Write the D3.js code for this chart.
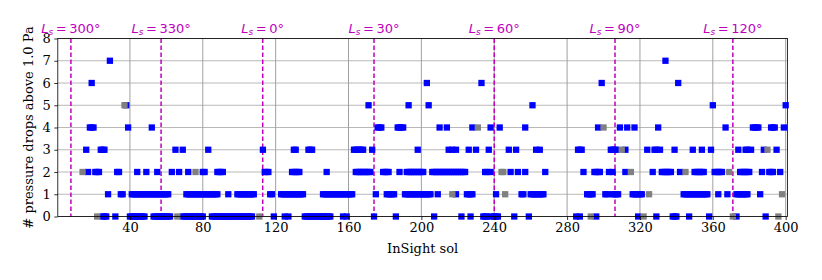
<!DOCTYPE html>
<html><head><meta charset="utf-8">
<script src="https://cdn.jsdelivr.net/npm/d3@7"></script>
<style>body{margin:0;background:#fff}</style>
</head><body>
<svg id="c" width="822" height="280"></svg>
<script>
// sols per count level (blue = complete sols, gray = partial sols)
const blueAt0=[25,26,27,32,40,41,42,43,44,45,46,47,48,53,54,55,56,57,58,59,60,61,62,69,70,71,72,73,74,75,76,77,78,79,80,85,86,87,88,89,90,91,92,93,94,95,96,97,98,99,100,101,102,103,104,105,106,107,119,125,127,136,137,138,139,140,141,142,143,144,145,146,147,148,149,150,157,159,174,186,207,222,227,234,235,236,238,240,241,242,251,259,285,287,296,319,329,338,339,340,347,358,373,389];
const grayAt0=[22,66,111,293,322,371,396];
const blueAt1=[28,35,36,41,42,43,44,45,46,47,48,49,50,51,52,53,54,55,56,57,58,59,60,61,71,72,73,74,75,76,77,78,79,80,81,82,83,84,85,86,87,88,94,99,100,101,102,103,104,105,106,107,108,117,118,123,124,125,126,127,128,129,130,131,132,133,134,135,146,147,148,149,150,151,152,153,154,155,156,157,158,159,160,161,162,175,181,182,183,184,185,191,192,193,194,195,196,197,198,199,200,201,202,203,204,205,209,219,225,226,227,228,241,255,256,260,261,262,263,264,265,266,267,291,292,293,294,301,302,305,306,307,308,316,317,318,319,320,321,344,345,346,347,348,349,350,351,352,353,354,355,356,357,363,368,373,374,375,376,377,378,379,386];
const grayAt1=[217,246,325,398];
const blueAt2=[17,21,22,23,33,34,44,49,55,63,67,72,80,81,88,89,90,91,114,115,116,129,130,131,132,133,148,164,165,166,167,168,169,170,171,172,179,180,181,182,188,192,193,194,195,196,197,198,199,200,201,206,207,208,209,210,211,212,213,214,215,216,217,218,219,220,221,222,223,224,235,236,238,249,253,257,268,289,295,296,297,298,303,305,312,327,332,333,334,335,336,337,342,350,351,352,353,354,355,361,362,363,364,365,375,376,377,378,379,380,387,391,392,393,397];
const grayAt2=[14,76,244,245,315,345,369];
const blueAt3=[16,24,25,26,65,69,83,113,130,131,138,139,140,163,164,165,166,167,168,173,198,215,217,219,226,230,237,248,252,263,265,286,287,288,304,305,306,307,312,324,328,329,331,339,349,354,359,374,378,379,381,388,395];
const grayAt3=[310,390];
const blueAt4=[18,19,20,39,52,176,177,178,187,188,189,190,210,214,228,238,243,257,297,309,313,317,330,367,382,383,384,385,392,393,394,399];
const grayAt4=[231,300];
const blueAt5=[38,171,193,204,261,360,400];
const grayAt5=[37];
const blueAt6=[19,203,233,299,341];
const blueAt7=[29,334];

const xTicks=[40,80,120,160,200,240,280,320,360,400];
const yTicks=[0,1,2,3,4,5,6,7,8];
const lsSols=[7.6,57.1,112.9,174,240,306.3,371];
const lsLabels=["300","330","0","30","60","90","120"];

const blueLevels=[blueAt0,blueAt1,blueAt2,blueAt3,blueAt4,blueAt5,blueAt6,blueAt7];
const grayLevels=[grayAt0,grayAt1,grayAt2,grayAt3,grayAt4,grayAt5];
const bluePts=blueLevels.flatMap((a,k)=>a.map(s=>({s,k})));
const grayPts=grayLevels.flatMap((a,k)=>a.map(s=>({s,k})));

const W=822,H=280,m={l:57.8,r:34.5,t:38.5,b:63.5};
const x=d3.scaleLinear().domain([0.4,401]).range([m.l,W-m.r]);
const y=d3.scaleLinear().domain([0,8]).range([H-m.b,m.t]);
const svg=d3.select("#c");
const serif="'DejaVu Serif', serif";

// grid
svg.append("g").selectAll("line").data(yTicks).join("line")
  .attr("x1",m.l).attr("x2",W-m.r).attr("y1",d=>y(d)).attr("y2",d=>y(d))
  .attr("stroke","#b8b8b8").attr("stroke-width",1);
svg.append("g").selectAll("line").data(xTicks).join("line")
  .attr("x1",d=>x(d)).attr("x2",d=>x(d)).attr("y1",m.t).attr("y2",H-m.b)
  .attr("stroke","#a0a0a0").attr("stroke-width",1);

// Ls lines
svg.append("g").selectAll("line").data(lsSols).join("line")
  .attr("x1",d=>x(d)).attr("x2",d=>x(d)).attr("y1",m.t).attr("y2",H-m.b)
  .attr("stroke","#bf00bf").attr("stroke-width",1.5).attr("stroke-dasharray","4.5,2.5");

// markers
const ms=6.3;
svg.append("g").selectAll("rect").data(bluePts).join("rect")
  .attr("x",d=>x(d.s)-ms/2).attr("y",d=>y(d.k)-ms/2).attr("width",ms).attr("height",ms)
  .attr("fill","#0000ff");
svg.append("g").selectAll("rect").data(grayPts).join("rect")
  .attr("x",d=>x(d.s)-ms/2).attr("y",d=>y(d.k)-ms/2).attr("width",ms).attr("height",ms)
  .attr("fill","#808080");

// axes
const xa=svg.append("g").attr("transform",`translate(0,${H-m.b})`)
  .call(d3.axisBottom(x).tickValues(xTicks).tickSize(3.5).tickPadding(3).tickFormat(d3.format("d")));
const ya=svg.append("g").attr("transform",`translate(${m.l},0)`)
  .call(d3.axisLeft(y).tickValues(yTicks).tickSize(3.5).tickPadding(3.5).tickFormat(d3.format("d")));
[xa,ya].forEach(a=>{a.select(".domain").remove();
  a.selectAll("text").attr("font-family",serif).attr("font-size",13).attr("fill","#000");
  a.selectAll("line").attr("stroke","#000").attr("stroke-width",0.8);});
svg.append("rect").attr("x",m.l).attr("y",m.t).attr("width",W-m.l-m.r).attr("height",H-m.t-m.b)
  .attr("fill","none").attr("stroke","#000").attr("stroke-width",0.8);

// labels
svg.append("text").attr("x",(m.l+W-m.r)/2).attr("y",253).attr("text-anchor","middle")
  .attr("font-family",serif).attr("font-size",13).text("InSight sol");
svg.append("text").attr("transform",`translate(33,${(m.t+H-m.b)/2}) rotate(-90)`)
  .attr("text-anchor","middle").attr("font-family",serif).attr("font-size",13)
  .text("# pressure drops above 1.0 Pa");

// Ls labels
const lg=svg.append("g").selectAll("text").data(lsSols).join("text")
  .attr("x",d=>x(d)).attr("y",33).attr("text-anchor","middle")
  .attr("font-family","'DejaVu Sans', sans-serif").attr("font-size",13).attr("fill","#bf00bf");
lg.each(function(d,i){
  const t=d3.select(this);
  t.append("tspan").attr("font-style","italic").text("L");
  t.append("tspan").attr("font-style","italic").attr("font-size",9).attr("dy",2).text("s");
  t.append("tspan").attr("dy",-2).text("\u2009=\u2009"+lsLabels[i]+"°");
});
</script>
</body></html>
